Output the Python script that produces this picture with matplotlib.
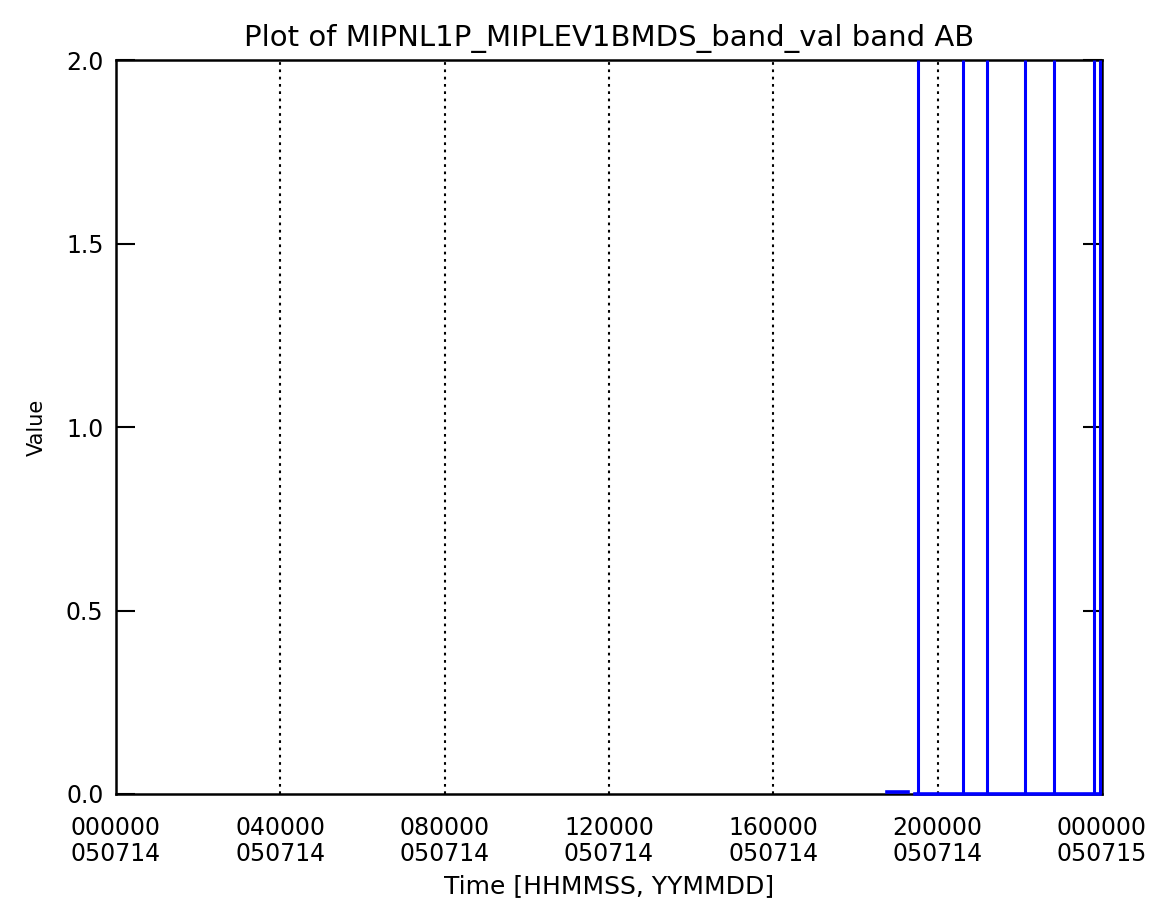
import numpy as np
import matplotlib
matplotlib.use("Agg")
import matplotlib.pyplot as plt

# time in hours since 000000 050714
tick_hours = [0, 4, 8, 12, 16, 20, 24]
tick_labels = ["000000\n050714", "040000\n050714", "080000\n050714", "120000\n050714",
               "160000\n050714", "200000\n050714", "000000\n050715"]
grid_hours = [4, 8, 12, 16, 20]

# baseline segments of the band value (nan = data gap)
base_t = [18.77, 19.27, np.nan, 19.45, 23.95]
base_v = [0.006, 0.006, np.nan, 0.0, 0.0]

# spikes that run off the top of the plot
spike_t = [19.52, 20.62, 21.20, 22.13, 22.83, 23.81, 23.95]
spike_v = [2.0, 2.0, 2.0, 2.0, 2.0, 2.0, 2.0]

fig = plt.figure(figsize=(11.6, 9.07), dpi=100)
ax = fig.add_axes([0.1, 0.1246, 0.85, 0.8092])

ax.plot(base_t, base_v, color="#0000ff", linewidth=2.6, clip_on=False, zorder=5)
ax.vlines(spike_t, 0.0, spike_v, color="#0000ff", linewidth=2.2, zorder=5)

for h in grid_hours:
    ax.axvline(h, color="black", linestyle=(0, (1.3, 2.2)), linewidth=1.5)

ax.set_xlim(0, 24)
ax.set_ylim(0, 2.0)
ax.set_xticks(tick_hours)
ax.set_xticklabels(tick_labels, fontsize=17, linespacing=1.1)
ax.set_yticks([0.0, 0.5, 1.0, 1.5, 2.0])
ax.set_yticklabels(["0.0", "0.5", "1.0", "1.5", "2.0"], fontsize=17)
ax.tick_params(axis="x", length=0, pad=16)
ax.tick_params(axis="y", direction="in", length=14, width=1.5, right=True, pad=9)
for s in ax.spines.values():
    s.set_linewidth(1.8)

ax.set_title("Plot of MIPNL1P_MIPLEV1BMDS_band_val band AB", fontsize=21, pad=10)
ax.set_xlabel("Time [HHMMSS, YYMMDD]", fontsize=18, labelpad=6)
ax.set_ylabel("Value", fontsize=15, labelpad=14)

fig.savefig("out.png", dpi=100)
